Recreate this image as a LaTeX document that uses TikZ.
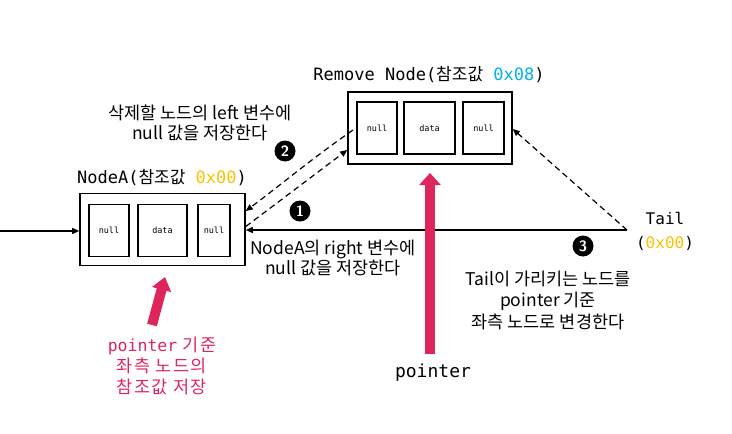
\documentclass[tikz,border=0pt]{standalone}
\usepackage{fontspec}
\setmainfont{Noto Sans CJK KR}
\newfontfamily\kr{Noto Sans CJK KR}
\newfontfamily\krwide[LetterSpace=8]{Noto Sans CJK KR}
\newfontfamily\mono{DejaVu Sans Mono}
\usetikzlibrary{arrows.meta}
\definecolor{pinkc}{RGB}{222,38,92}
\definecolor{addrY}{RGB}{255,192,0}
\definecolor{addrB}{RGB}{0,176,240}
\tikzset{
  outerbox/.style={draw, line width=1.6pt, minimum width=#1, minimum height=72pt, inner sep=0pt},
  cell/.style={draw, line width=1.4pt, minimum height=52pt, minimum width=#1, inner sep=0pt, font=\mono\fontsize{8.5}{10}\selectfont},
  conn/.style={line width=1.2pt, -{Triangle[length=7pt,width=6pt]}},
  dconn/.style={conn, dash pattern=on 6pt off 4pt},
  numc/.style={circle, fill=black, text=white, minimum size=21pt, inner sep=0pt, font=\sffamily\bfseries\fontsize{15}{15}\selectfont},
  label/.style={align=center, font=\fontsize{17.5}{20}\selectfont, inner sep=0pt},
  title/.style={font=\mono\fontsize{17}{20}\selectfont, inner sep=0pt},
  bigarrow/.style={draw=pinkc, line width=10pt, -{Triangle[length=12pt,width=21pt]}},
}
\begin{document}
\begin{tikzpicture}[x=1pt,y=-1pt]
\useasboundingbox (0,0) rectangle (732,434);
% NodeA
\node[outerbox=165pt] (nodeA) at (162.5,229.5) {};
\node[cell=40pt] (an1) at (109,230.5) {null};
\node[cell=49pt] (adata) at (162.5,230.5) {data};
\node[cell=32pt] (an2) at (214,230.5) {null};
\node[title] (atitle) at (162,178) {NodeA({\kr 참조값} \textcolor{addrY}{0x00})};
% Remove node
\node[outerbox=164pt] (rem) at (430,128) {};
\node[cell=40pt] (rn1) at (377,128) {null};
\node[cell=51pt] (rdata) at (429.5,128) {data};
\node[cell=41pt] (rn2) at (483.5,128) {null};
\node[title] (rtitle) at (429,75) {Remove Node({\kr 참조값} \textcolor{addrB}{0x08})};
% Tail
\coordinate (tailpt) at (627,230);
\node[title, font=\mono\fontsize{16}{20}\selectfont] (tail) at (665,218) {Tail};
\node[title, font=\mono\fontsize{16}{20}\selectfont] (tailaddr) at (665,243) {(\textcolor{addrY}{0x00})};
% incoming arrow
\coordinate (leftin) at (0,231);
\draw[conn] (leftin) -- (leftin -| nodeA.west);
% arrow 1
\draw[conn] (tailpt) -- (tailpt -| nodeA.east);
% tail to remove node
\draw[dconn] (tailpt) -- ([yshift=-1pt]rem.east);
% dashed pair
\draw[dconn] ([xshift=-24pt,yshift=-2pt]rn1.center) to[out=-145,in=37] ([yshift=18.5pt]nodeA.east);
\draw[dconn] ([yshift=3pt]nodeA.east) -- ([yshift=-22pt]rem.west);
% numbers
\node[numc] (n1) at (300,211) {1};
\node[numc] (n2) at (285,151) {2};
\node[numc] (n3) at (583,246) {3};
% labels
\node[label] (lab2) at (200,122.5) {삭제할 노드의 left 변수에\\null 값을 저장한다};
\node[label] (lab1) at (333,258) {NodeA의 right 변수에\\null 값을 저장한다};
\node[label, font=\fontsize{17.5}{21.5}\selectfont] (lab3) at (548,300) {Tail이 가리키는 노드를\\pointer 기준\\좌측 노드로 변경한다};
% pointers
\coordinate (pbot) at (430,354);
\coordinate (ptop) at (430,173);
\draw[bigarrow] (pbot) -- (ptop);
\node[title, font=\mono\fontsize{18}{20}\selectfont] (plab) at (433,373) {pointer};
\coordinate (sbot) at (152,325);
\coordinate (stop) at (165,277);
\draw[bigarrow, -{Triangle[length=13pt,width=19pt]}] (sbot) -- (stop);
\node[align=center, text=pinkc, font=\krwide\fontsize{17.5}{21}\selectfont, inner sep=0pt] (plab2) at (162,366) {{\mono\fontsize{16.5}{21}\selectfont pointer} 기준\\좌측 노드의\\참조값 저장};
\end{tikzpicture}
\end{document}
